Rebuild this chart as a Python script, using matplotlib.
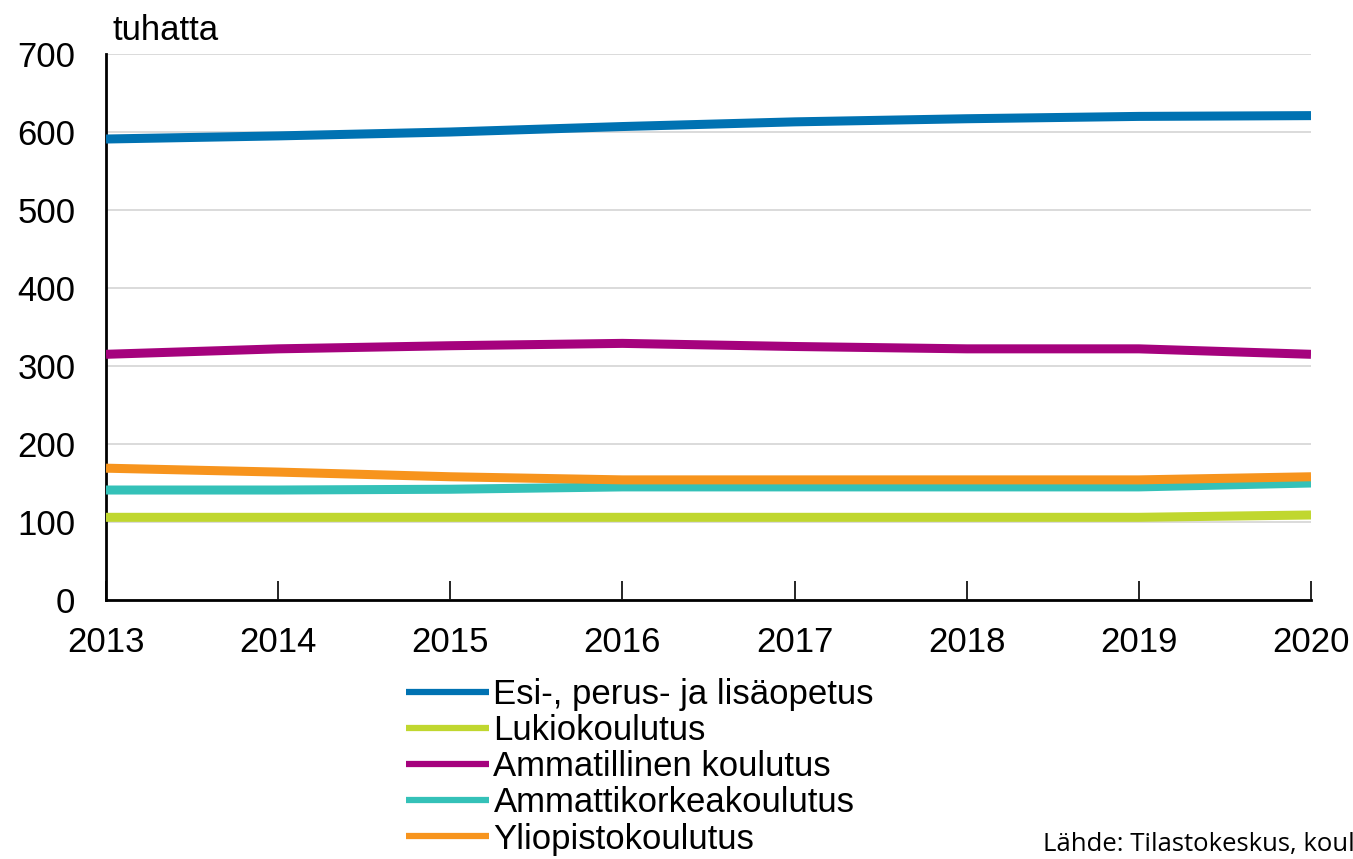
import matplotlib
matplotlib.use("Agg")
import matplotlib.pyplot as plt

years = [2013, 2014, 2015, 2016, 2017, 2018, 2019, 2020]
esi_perus = [591, 595, 600, 607, 613, 617, 620, 621]
lukio = [106, 106, 106, 106, 106, 106, 106, 109]
ammatillinen = [315, 322, 326, 329, 325, 322, 322, 315]
amk = [141, 141, 142, 145, 145, 145, 145, 150]
yliopisto = [169, 164, 158, 154, 154, 154, 154, 158]

series = [
    ("Esi-, perus- ja lisäopetus", esi_perus, "#0072B2"),
    ("Lukiokoulutus", lukio, "#C0D72F"),
    ("Ammatillinen koulutus", ammatillinen, "#A5027D"),
    ("Ammattikorkeakoulutus", amk, "#34C1B8"),
    ("Yliopistokoulutus", yliopisto, "#F7941D"),
]
yticks = [0, 100, 200, 300, 400, 500, 600, 700]

plt.rcParams['font.family'] = ['Liberation Sans', 'DejaVu Sans']

fig = plt.figure(figsize=(13.53, 8.59), dpi=100)
ax = fig.add_axes([106/1353, 1-600/859, (1311-106)/1353, (600-54)/859])

handles = []
for name, vals, col in series:
    h, = ax.plot(years, vals, color=col, lw=6.5, solid_capstyle='butt', label=name, zorder=3)
    handles.append(h)

ax.set_xlim(2013, 2020)
ax.set_ylim(0, 700)
ax.set_yticks(yticks)
ax.set_xticks(years)
ax.tick_params(axis='y', length=0, labelsize=25, pad=22)
ax.tick_params(axis='x', direction='in', length=14, width=1.2, labelsize=25, pad=19, color='black')
ax.grid(axis='y', color='#d4d4d4', lw=1.2)
ax.set_axisbelow(True)
for s in ['top', 'right']:
    ax.spines[s].set_visible(False)
for s in ['left', 'bottom']:
    ax.spines[s].set_color('black')
    ax.spines[s].set_linewidth(2)

fig.text(113/1353, 1-40/859, "tuhatta", fontsize=25, va='baseline', ha='left')

leg = fig.legend(handles=handles, loc='upper left', bbox_to_anchor=(406/1353, 1-678/859),
                 frameon=False, fontsize=25, handlelength=2.4, handletextpad=0.12,
                 labelspacing=0.09, borderaxespad=0, borderpad=0)
for l in leg.get_lines():
    l.set_linewidth(4.5)

fig.text(1043/1353, 1-857/859, "Lähde: Tilastokeskus, koul", fontsize=18.5,
         family=['Open Sans', 'DejaVu Sans'], ha='left', va='bottom')

fig.savefig("out.png", dpi=100)
